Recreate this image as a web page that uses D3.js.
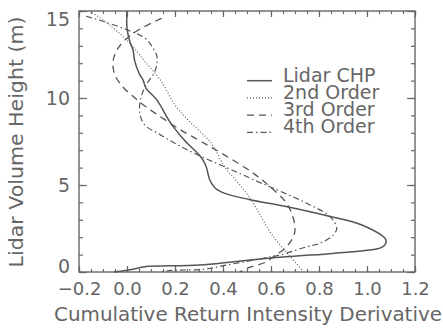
<!DOCTYPE html>
<html>
<head>
<meta charset="utf-8">
<script src="https://cdn.jsdelivr.net/npm/d3@7"></script>
<style>
  body { margin: 0; background: #fff; }
  text { font-family: "DejaVu Sans", sans-serif; fill: #666; }
</style>
</head>
<body>
<div id="plot"></div>
<script>
// Data: x = derivative value, h = height in m
var chpX = [0.0, 0.0, 0.011, 0.025, 0.032, 0.053, 0.067, 0.079, 0.124, 0.185, 0.242, 0.308, 0.329, 0.345, 0.367, 0.408, 0.508, 0.667, 0.838, 0.979, 1.079, 1.065, 0.942, 0.858, 0.588, 0.304, 0.074, 0.025, -0.054];
var chpH = [15.0, 14.02, 13.28, 12.76, 12.13, 11.34, 11.03, 10.57, 9.89, 8.5, 7.53, 6.61, 6.09, 5.29, 4.83, 4.52, 4.17, 3.75, 3.22, 2.70, 1.84, 1.44, 1.17, 1.07, 0.79, 0.40, 0.30, 0.16, 0.0];

var ord2X = [-0.145, -0.099, 0.004, 0.074, 0.143, 0.199, 0.254, 0.351, 0.407, 0.476, 0.518, 0.61, 0.735];
var ord2H = [14.9, 14.48, 13.26, 12.11, 10.96, 9.61, 8.74, 7.40, 6.05, 4.90, 4.14, 2.03, 0.05];

var ord3X = [0.144, 0.026, -0.037, -0.058, -0.051, -0.017, 0.025, 0.074, 0.129, 0.2125, 0.31, 0.407, 0.518, 0.596, 0.665, 0.693, 0.70, 0.693, 0.665, 0.61, 0.582, 0.499, 0.47];
var ord3H = [14.58, 13.72, 12.87, 12.11, 11.34, 10.63, 10.10, 9.54, 9.02, 8.26, 7.49, 6.72, 5.76, 4.90, 3.95, 3.09, 2.41, 2.03, 1.45, 0.88, 0.59, 0.21, 0.0];

var ord4X = [-0.17, -0.10, 0.002, 0.074, 0.10, 0.125, 0.117, 0.080, 0.058, 0.053, 0.074, 0.129, 0.2125, 0.31, 0.407, 0.546, 0.61, 0.749, 0.846, 0.874, 0.86, 0.804, 0.749, 0.6375, 0.568, 0.415, 0.324, 0.185, 0.14];
var ord4H = [14.7, 14.41, 13.91, 13.45, 13.05, 12.36, 11.55, 10.76, 10.0, 9.12, 8.45, 7.97, 7.30, 6.63, 6.05, 5.19, 4.81, 3.95, 3.18, 2.53, 2.13, 1.65, 1.45, 0.98, 0.79, 0.40, 0.16, 0.09, 0.0];

var legendNames = ["Lidar CHP", "2nd Order", "3rd Order", "4th Order"];
var xTicks = [-0.2, 0.0, 0.2, 0.4, 0.6, 0.8, 1.0, 1.2];
var yTicks = [0, 5, 10, 15];

// Dimensions
var W = 443, H = 332;
var margin = {top: 11, right: 28, bottom: 60, left: 79},
    width = W - margin.left - margin.right,
    height = H - margin.top - margin.bottom;

var svg = d3.select("#plot")
    .append("svg")
        .attr("width", W)
        .attr("height", H)
    .append("g")
        .attr("transform", "translate(" + margin.left + "," + margin.top + ")");

var x = d3.scaleLinear().domain([-0.2, 1.2]).range([0, width]);
var y = d3.scaleLinear().domain([0, 15]).range([height, 0]);

var axisColor = "#666";

// tick helper: ticks point inward on all four sides
function addAxis(axis, tx, ty) {
    var g = svg.append("g")
        .attr("transform", "translate(" + tx + "," + ty + ")")
        .call(axis);
    g.select(".domain").remove();
    g.selectAll("line").attr("stroke", axisColor).attr("stroke-width", 1.2);
    return g;
}

var xMinor = x.ticks(28), yMinor = d3.range(0, 16, 1);

addAxis(d3.axisBottom(x).tickValues(xMinor).tickSize(-3).tickFormat(""), 0, height);
addAxis(d3.axisTop(x).tickValues(xMinor).tickSize(-3).tickFormat(""), 0, 0);
addAxis(d3.axisLeft(y).tickValues(yMinor).tickSize(-4).tickFormat(""), 0, 0);
addAxis(d3.axisRight(y).tickValues(yMinor).tickSize(-4).tickFormat(""), width, 0);

var gx = addAxis(d3.axisBottom(x).tickValues(xTicks).tickSizeInner(-6).tickPadding(14)
    .tickFormat(function(d) { return d3.format(".1f")(d).replace("-", "\u2212"); }), 0, height);
gx.selectAll("text").style("font-size", "18px").attr("fill", "#666").attr("dy", "0.5em");
addAxis(d3.axisTop(x).tickValues(xTicks).tickSize(-6).tickFormat(""), 0, 0);

var gy = addAxis(d3.axisLeft(y).tickValues(yTicks).tickSizeInner(-8).tickPadding(9)
    .tickFormat(d3.format("d")), 0, 0);
gy.selectAll("text").style("font-size", "19px").attr("fill", "#666")
    .attr("dy", function(d) { return d === 15 ? "0.74em" : (d === 0 ? "0.05em" : "0.35em"); });
addAxis(d3.axisRight(y).tickValues(yTicks).tickSize(-8).tickFormat(""), width, 0);

// Frame
svg.append("rect")
    .attr("width", width).attr("height", height)
    .attr("fill", "none").attr("stroke", axisColor).attr("stroke-width", 1.4);

// Axis titles
svg.append("text")
    .attr("x", width / 2 + 1)
    .attr("y", height + 49)
    .style("text-anchor", "middle")
    .style("font-size", "19px")
    .attr("textLength", 388)
    .attr("lengthAdjust", "spacingAndGlyphs")
    .text("Cumulative Return Intensity Derivative");

svg.append("text")
    .attr("transform", "rotate(-90)")
    .attr("x", -131)
    .attr("y", 23 - margin.left)
    .style("text-anchor", "middle")
    .style("font-size", "20px")
    .attr("textLength", 251)
    .attr("lengthAdjust", "spacingAndGlyphs")
    .text("Lidar Volume Height (m)");

// Series
var series = [
    {xs: chpX, hs: chpH, dash: null, w: 1.5},
    {xs: ord2X, hs: ord2H, dash: "1,2", w: 1.1},
    {xs: ord3X, hs: ord3H, dash: "7,5", w: 1.3},
    {xs: ord4X, hs: ord4H, dash: "6,3,1.5,3", w: 1.2}
];

var line = d3.line()
    .x(function(d) { return x(d[0]); })
    .y(function(d) { return y(d[1]); })
    .curve(d3.curveCatmullRom.alpha(0.5));

series.forEach(function(s) {
    svg.append("path")
        .datum(d3.zip(s.xs, s.hs))
        .attr("fill", "none")
        .attr("stroke", "#555")
        .attr("stroke-width", s.w)
        .attr("stroke-dasharray", s.dash)
        .attr("d", line);
});

// Legend
var lg = svg.append("g").attr("transform", "translate(" + (247 - margin.left) + "," + (81.7 - margin.top) + ")");
legendNames.forEach(function(name, i) {
    var yy = i * 17.2;
    lg.append("line")
        .attr("x1", 0).attr("x2", 25)
        .attr("y1", yy - 1).attr("y2", yy - 1)
        .attr("stroke", "#555")
        .attr("stroke-width", series[i].w)
        .attr("stroke-dasharray", series[i].dash);
    lg.append("text")
        .attr("x", 36).attr("y", yy)
        .style("font-size", "19px")
        .text(name);
});
</script>
</body>
</html>
